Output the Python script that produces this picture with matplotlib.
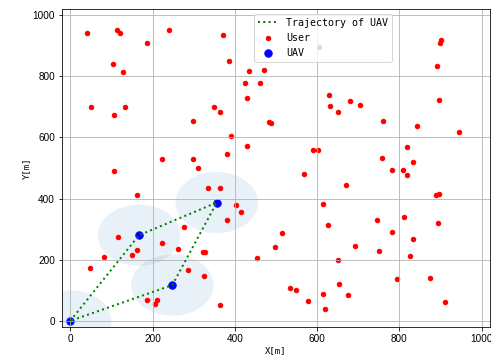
import numpy as np
import matplotlib
matplotlib.use("Agg")
import matplotlib.pyplot as plt
from matplotlib.patches import Circle


# 用户位置 (x, y)，单位 m
user_x = [40, 113, 121, 186, 239, 104, 128, 50, 133, 107,
          299, 223, 299, 311, 107, 371, 386, 434, 470, 424,
          460, 430, 350, 365, 482, 489, 390, 429, 382, 590,
          601, 629, 630, 650, 605, 901, 898, 890, 680, 705,
          760, 897, 842, 945, 818, 757, 832, 783, 808, 819,
          670, 888, 897, 745, 810, 893, 781, 832, 692, 750,
          825, 676, 794, 875, 911, 569, 334, 365, 403, 416,
          380, 613, 626, 514, 497, 455, 651, 323, 328, 325,
          363, 535, 548, 653, 577, 613, 619, 162, 115, 161,
          151, 82, 48, 223, 277, 262, 287, 186, 212, 206]
user_y = [940, 951, 940, 908, 951, 841, 813, 700, 698, 672,
          653, 528, 528, 500, 489, 935, 850, 816, 821, 779,
          779, 729, 698, 683, 649, 647, 605, 571, 546, 559,
          559, 738, 704, 683, 895, 918, 909, 832, 720, 706,
          655, 723, 638, 619, 568, 532, 521, 494, 492, 478,
          444, 413, 415, 331, 340, 319, 292, 269, 244, 230,
          212, 83, 136, 139, 61, 480, 433, 436, 379, 356,
          331, 381, 312, 289, 241, 205, 200, 224, 224, 148,
          51, 106, 102, 120, 65, 88, 40, 413, 275, 233,
          216, 209, 173, 255, 308, 235, 168, 69, 69, 56]

# 无人机悬停位置
uav_x = [0, 167, 356, 248]
uav_y = [0, 280, 387, 117]

# 飞行轨迹顺序
traj_order = [0, 1, 2, 3, 0]
coverage_radius = 100


fig = plt.figure(figsize=(491 / 72, 362 / 72), dpi=72)
ax = fig.add_axes([0.1263, 0.0967, 0.8717, 0.8785])

for cx, cy in zip(uav_x, uav_y):
    ax.add_patch(Circle((cx, cy), coverage_radius, color="#1f77b4", alpha=0.1, lw=0))

traj_x = [uav_x[i] for i in traj_order]
traj_y = [uav_y[i] for i in traj_order]
ax.plot(traj_x, traj_y, color="green", linestyle=":", linewidth=2, label="Trajectory of UAV")
ax.scatter(user_x, user_y, s=20, color="red", label="User")
ax.scatter(uav_x, uav_y, s=55, color="blue", label="UAV")

ax.set_xlim(-20, 1020)
ax.set_ylim(-20, 1020)
ax.set_xticks(np.arange(0, 1001, 200))
ax.set_yticks(np.arange(0, 1001, 200))
for lab in ax.get_xticklabels() + ax.get_yticklabels():
    lab.set_family("Liberation Sans")
ax.grid(True)

ax.set_xlabel("X[m]", family="DejaVu Sans Mono", fontsize=9, labelpad=2)
ax.set_ylabel("Y[m]", family="DejaVu Sans Mono", fontsize=9, labelpad=2)

ax.legend(loc="upper left", bbox_to_anchor=(0.449, 0.985), borderaxespad=0,
          prop={"family": "DejaVu Sans Mono", "size": 10})

fig.savefig("out.png", dpi=72)
